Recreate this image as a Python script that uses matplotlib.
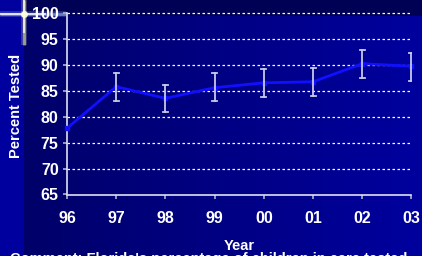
import numpy as np
import matplotlib
matplotlib.use("Agg")
import matplotlib.pyplot as plt

years = ["96", "97", "98", "99", "00", "01", "02", "03"]
percent = [77.8, 85.85, 83.6, 85.65, 86.6, 86.8, 90.3, 89.8]
err_low = [None, 83.1, 81.0, 83.1, 83.9, 84.1, 87.5, 87.0]
err_high = [None, 88.4, 86.1, 88.4, 89.3, 89.4, 92.9, 92.3]
y_ticks = [65, 70, 75, 80, 85, 90, 95, 100]

W, H = 422, 256
fig = plt.figure(figsize=(W / 100, H / 100), dpi=100)
fig.patch.set_facecolor("#000078")

# background gradient
bg = fig.add_axes([0, 0, 1, 1])
bg.set_axis_off()
xs = np.linspace(0, 1, W)
ys = np.linspace(0, 1, H)
X, Y = np.meshgrid(xs, ys)
base = np.zeros((H, W, 3))
base[..., 2] = 0.40 + 0.22 * X
left = X < 24 / W
base[left, 2] = 0.62
top = (Y < 16 / H) & ~left
base[top, 2] = 0.33
bg.imshow(base, extent=[0, W, H, 0], aspect="auto", interpolation="bilinear")
bg.set_xlim(0, W)
bg.set_ylim(H, 0)

# flare
for lw, a in [(4, 0.25), (2, 0.5)]:
    bg.plot([0, 66], [14, 14], color="#aaccff", lw=lw, alpha=a, solid_capstyle="butt")
    bg.plot([24, 24], [0, 45], color="#ffffaa", lw=lw, alpha=a, solid_capstyle="butt")
bg.plot([0, 45], [14, 14], color="#ffffff", lw=1.4, alpha=0.8)
bg.plot([24, 24], [0, 32], color="#ffffee", lw=1.4, alpha=0.8)
bg.plot([24], [14], marker="o", ms=5, color="#ffffdd", alpha=0.9, mew=0)

ax = fig.add_axes([67 / W, 1 - 194.5 / H, (411.5 - 67) / W, (194.5 - 13.5) / H])
ax.set_facecolor("none")
x = np.arange(len(years))
ax.set_xlim(0, len(years) - 1)
ax.set_ylim(65, 100)

for yv in y_ticks[1:]:
    ax.axhline(yv, color="white", lw=0.9, ls=(0, (2, 2)), zorder=1, clip_on=False)

ax.plot(x, percent, color="#1010ff", lw=2, zorder=3, clip_on=False)
ax.plot(x, percent, ls="none", marker="s", ms=3, color="#1010ff", zorder=3, clip_on=False)
for i in range(len(years)):
    if err_low[i] is None:
        continue
    ax.plot([x[i], x[i]], [err_low[i], err_high[i]], color="#c8c8e8", lw=1.3, zorder=4)
    for v in (err_low[i], err_high[i]):
        ax.plot([x[i] - 0.05, x[i] + 0.05], [v, v], color="#c8c8e8", lw=1.3, zorder=4)

for s in ["top", "right"]:
    ax.spines[s].set_visible(False)
for s in ["left", "bottom"]:
    ax.spines[s].set_color("#e0e0f0")
    ax.spines[s].set_linewidth(1.2)

ax.set_xticks(x)
ax.set_xticklabels(years)
ax.set_yticks(y_ticks)
ax.set_yticklabels([str(v) for v in y_ticks])
ax.tick_params(axis="both", colors="#b0b0d0", length=3, width=1.2, direction="out")
for lab in ax.get_xticklabels() + ax.get_yticklabels():
    lab.set_color("white")
    lab.set_fontweight("bold")
    lab.set_fontfamily("Liberation Sans")
    lab.set_fontsize(11.5)
ax.tick_params(axis="x", pad=9)
ax.tick_params(axis="y", pad=3)

fig.text(16 / W, 1 - 106 / H, "Percent Tested", rotation=90, color="white",
         fontweight="bold", fontfamily="Liberation Sans", fontsize=10.5,
         ha="center", va="center")
fig.text(239 / W, 1 - 246 / H, "Year", color="white", fontweight="bold",
         fontfamily="Liberation Sans", fontsize=10.5, ha="center", va="center")
fig.text(10 / W, 1 - 259.5 / H, "Comment: Florida's percentage of children in care tested",
         color="white", fontweight="bold", fontfamily="Liberation Sans",
         fontsize=10.5, ha="left", va="center")

fig.savefig("out.png", dpi=100, facecolor=fig.get_facecolor())
